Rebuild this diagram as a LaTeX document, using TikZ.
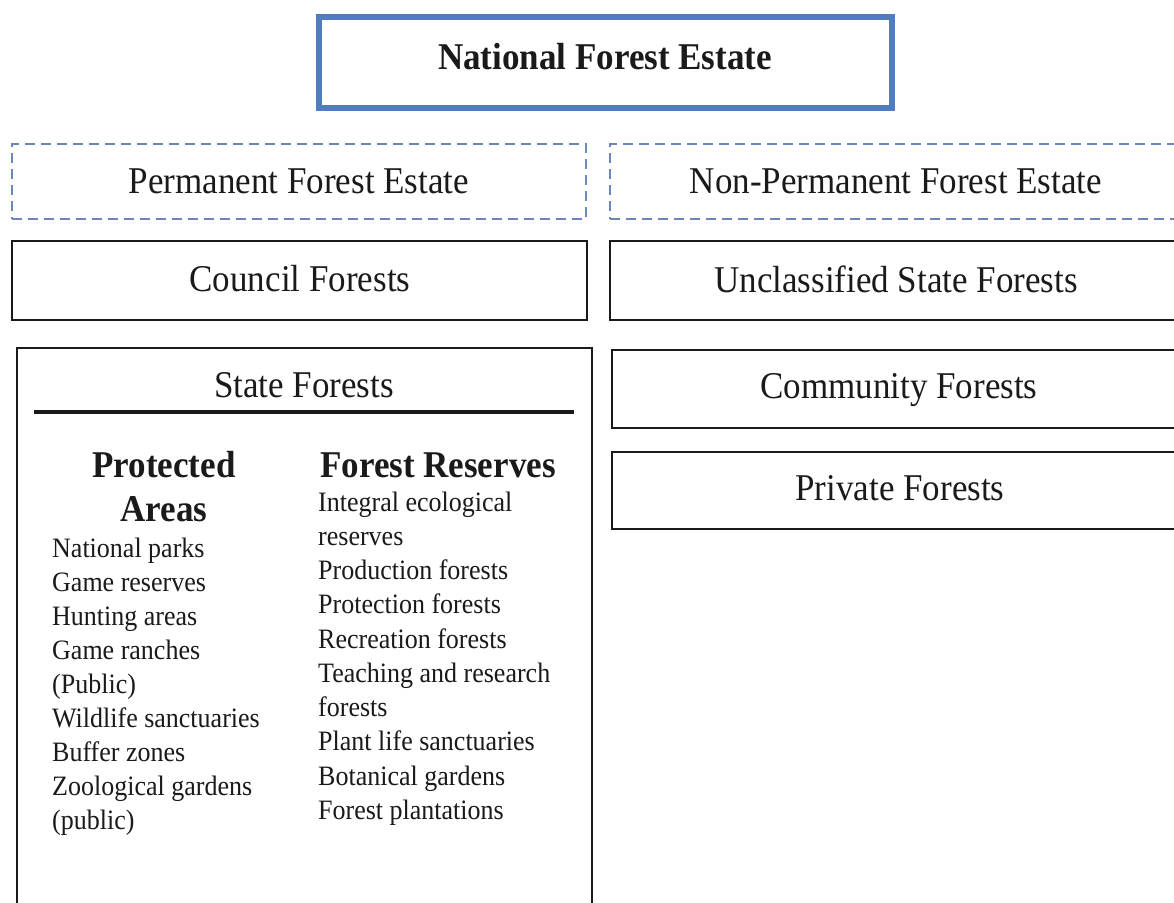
\documentclass[tikz,border=0pt]{standalone}
\usepackage{graphicx}
\usepackage{fontspec}
\setmainfont{Liberation Serif}
\definecolor{boxblue}{HTML}{4F7DBD}
\definecolor{dashblue}{HTML}{6A86BC}
\definecolor{ink}{HTML}{1A1A1A}
\newcommand{\tallt}[1]{\scalebox{1}[1.08]{#1}}
\begin{document}
\begin{tikzpicture}[x=1pt,y=-1pt,
  bigtxt/.style={font=\fontsize{35}{42}\selectfont, text=ink, inner sep=0pt, anchor=base},
  bigbold/.style={font=\fontsize{35}{42}\selectfont\bfseries, text=ink, inner sep=0pt, anchor=base},
  listtxt/.style={font=\fontsize{26}{32}\selectfont, text=ink, inner sep=0pt, anchor=base west},
  mainbox/.style={draw=boxblue, line width=6pt, inner sep=0pt},
  dashbox/.style={draw=dashblue, line width=2.5pt, dash pattern=on 10pt off 6pt, inner sep=0pt},
  plainbox/.style={draw=ink, line width=2.5pt, inner sep=0pt},
]
\useasboundingbox (0,0) rectangle (1174,902);
\fill[white] (0,0) rectangle (1174,902);
\clip (0,0) rectangle (1174,902);

% boxes
\node[mainbox, minimum width=573pt, minimum height=91pt] (nfe) at (605.5,62.5) {};
\node[dashbox, minimum width=574pt, minimum height=75pt] (pfe) at (299,181.5) {};
\node[dashbox, minimum width=590pt, minimum height=75pt] (npfe) at (905,181.5) {};
\node[plainbox, minimum width=575pt, minimum height=79pt] (cf) at (299.5,280.5) {};
\node[plainbox, minimum width=590pt, minimum height=79pt] (usf) at (905,280.5) {};
\node[plainbox, minimum width=575pt, minimum height=582pt] (sf) at (304.5,639) {};
\node[plainbox, minimum width=588pt, minimum height=78pt] (comm) at (906,389) {};
\node[plainbox, minimum width=588pt, minimum height=77pt] (priv) at (906,490.5) {};

% rule under State Forests
\coordinate (ruleL) at (34,412);
\coordinate (ruleR) at (574,412);
\draw[ink, line width=3.5pt] (ruleL) -- (ruleR);

% titles
\node[bigbold] (tnfe) at (605,69) {\tallt{National Forest Estate}};
\node[bigtxt] (tpfe) at (299,193) {\tallt{Permanent Forest Estate}};
\node[bigtxt] (tnpfe) at (896,193) {\tallt{Non-Permanent Forest Estate}};
\node[bigtxt] (tcf) at (300,291) {\tallt{Council Forests}};
\node[bigtxt] (tusf) at (896,292) {\tallt{Unclassified State Forests}};
\node[bigtxt] (tsf) at (304,397) {\tallt{State Forests}};
\node[bigtxt] (tcomm) at (899,398) {\tallt{Community Forests}};
\node[bigtxt] (tpriv) at (900,500) {\tallt{Private Forests}};

% column heads
\node[bigbold] (tpa1) at (164,477) {\tallt{Protected}};
\node[bigbold] (tpa2) at (164,521) {\tallt{Areas}};
\node[bigbold, anchor=base west] (tfr) at (320,477) {\tallt{Forest Reserves}};

% lists
\foreach \t [count=\i from 0] in {National parks, Game reserves, Hunting areas, Game ranches, (Public), Wildlife sanctuaries, Buffer zones, Zoological gardens, (public)}
  \node[listtxt] (pa\i) at (52,{557+34.0*\i}) {\tallt{\t}};
\foreach \t [count=\i from 0] in {Integral ecological, reserves, Production forests, Protection forests, Recreation forests, Teaching and research, forests, Plant life sanctuaries, Botanical gardens, Forest plantations}
  \node[listtxt] (fr\i) at (318,{511+34.25*\i}) {\tallt{\t}};
\end{tikzpicture}
\end{document}
